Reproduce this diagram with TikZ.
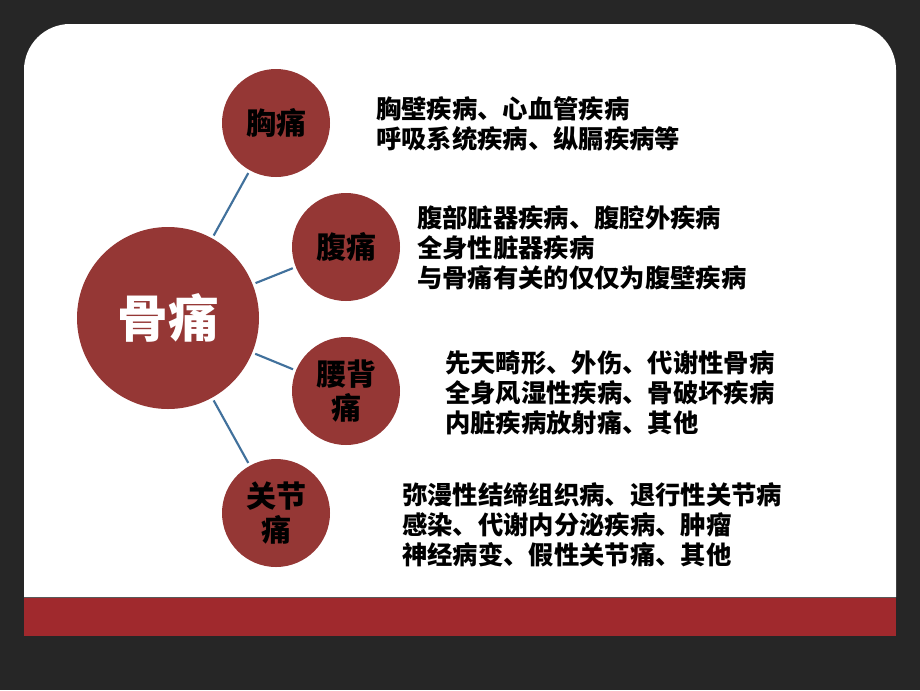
\documentclass[tikz,border=0pt]{standalone}
\usepackage{fontspec}
\setmainfont{Noto Sans CJK SC}
\definecolor{bgdark}{HTML}{262626}
\definecolor{circred}{HTML}{953735}
\definecolor{barred}{HTML}{A0292D}
\definecolor{linkblue}{HTML}{41719C}
\tikzset{
  bigcirc/.style={circle, fill=circred, minimum size=136.5pt, inner sep=0pt,
    text=white, font=\bfseries\fontsize{38}{42}\selectfont},
  smallcirc/.style={circle, fill=circred, minimum size=81pt, inner sep=0pt,
    text=black, align=center, font=\bfseries\fontsize{22.5}{25.5}\selectfont},
  desc/.style={anchor=west, inner sep=0pt, align=left, text=black,
    font=\bfseries\fontsize{19}{22.5}\selectfont},
  link/.style={draw=linkblue, line width=1.6pt, shorten <=2.25pt, shorten >=2.25pt}
}
\begin{document}
\begin{tikzpicture}[x=0.75pt, y=-0.75pt]
\useasboundingbox (0,0) rectangle (920,690);
\fill[bgdark] (0,0) rectangle (920,690);
% white panel with rounded top corners
\fill[white] (24,597) -- (24,70) arc[start angle=180, end angle=90, radius=34.5pt]
  -- (850,24) arc[start angle=90, end angle=0, radius=34.5pt] -- (896,597) -- cycle;
% red bar
\fill[barred] (24,597) rectangle (896,636);
\draw[gray!70!black, line width=0.6pt] (24,597) -- (896,597);
% circles
\node[bigcirc] (main) at (168,318) {骨痛};
\node[smallcirc] (c1) at (276,123) {胸痛};
\node[smallcirc] (c2) at (346,247) {腹痛};
\node[smallcirc] (c3) at (346,391) {腰背\\痛};
\node[smallcirc] (c4) at (276,513) {关节\\痛};
% connectors
\draw[link] (main) -- (c1);
\draw[link] (main) -- (c2);
\draw[link] (main) -- (c3);
\draw[link] (main) -- (c4);
% descriptions
\node[desc] (t1) at (376,123.5) {胸壁疾病、心血管疾病\\呼吸系统疾病、纵膈疾病等};
\node[desc] (t2) at (417,247.5) {腹部脏器疾病、腹腔外疾病\\全身性脏器疾病\\与骨痛有关的仅仅为腹壁疾病};
\node[desc] (t3) at (445,393) {先天畸形、外伤、代谢性骨病\\全身风湿性疾病、骨破坏疾病\\内脏疾病放射痛、其他};
\node[desc] (t4) at (402,525) {弥漫性结缔组织病、退行性关节病\\感染、代谢内分泌疾病、肿瘤\\神经病变、假性关节痛、其他};
\end{tikzpicture}
\end{document}
